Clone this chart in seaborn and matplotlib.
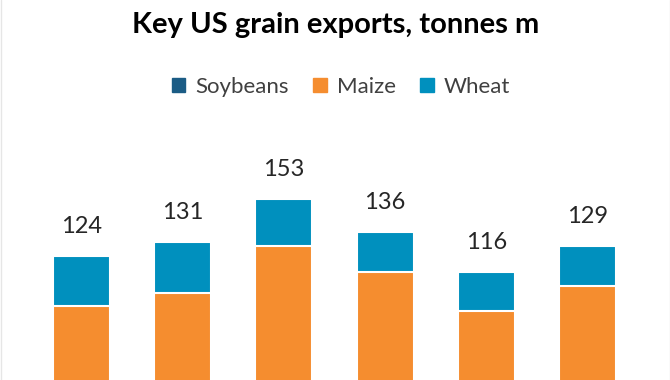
import matplotlib
matplotlib.use("Agg")
import matplotlib.pyplot as plt
import seaborn as sns
import pandas as pd
from matplotlib.patches import Patch
from matplotlib.lines import Line2D

# valores (millones de toneladas)
anios = ["A", "B", "C", "D", "E", "F"]
soja = [52, 48, 57, 54, 49, 55]
maiz = [47, 57.5, 72, 62, 47.5, 54]
trigo = [25, 25.5, 24, 20, 19.5, 20]

COL_SOJA = "#1b5c85"
COL_MAIZ = "#f58d2f"
COL_TRIGO = "#0090be"

sns.set_style("white")
plt.rcParams["font.family"] = ["Lato", "DejaVu Sans"]

df = pd.DataFrame({"anio": anios, "soja": soja, "maiz": maiz, "trigo": trigo})
df["nivel_maiz"] = df["soja"] + df["maiz"]
df["total"] = df["nivel_maiz"] + df["trigo"]

fig = plt.figure(figsize=(6.7, 3.8), dpi=100)

# el eje sigue por debajo del borde de la figura (grafico recortado)
ax = fig.add_axes([0.0463, -0.3237, 0.906, 0.9427])

# barras apiladas por capas: total -> soja+maiz -> soja
for col, color in [("total", COL_TRIGO), ("nivel_maiz", COL_MAIZ), ("soja", COL_SOJA)]:
    sns.barplot(data=df, x="anio", y=col, color=color, width=0.563,
                edgecolor="white", linewidth=1.5, saturation=1, ax=ax)

for i, v in enumerate(df["total"]):
    ax.text(i, v + 9.5, f"{v:.0f}", ha="center", va="bottom",
            fontsize=17, color="#262626")

ax.set_xlim(-0.5, 5.5)
ax.set_ylim(0, 180)
ax.set_xlabel("")
ax.set_ylabel("")
ax.set_xticks([])
ax.set_yticks([])
sns.despine(ax=ax, left=True, bottom=True)

# bordes laterales tenues del recorte
for xb in (0.5 / 670, 669.5 / 670):
    fig.add_artist(Line2D([xb, xb], [0, 1], transform=fig.transFigure,
                          color="#e6e6e6", linewidth=1))

fig.text(336 / 670, 1 - 33 / 380, "Key US grain exports, tonnes m",
         ha="center", va="baseline", fontsize=21, fontweight="bold", color="#000000")

handles = [Patch(color=COL_SOJA, label="Soybeans"),
           Patch(color=COL_MAIZ, label="Maize"),
           Patch(color=COL_TRIGO, label="Wheat")]
fig.legend(handles=handles, loc="center", bbox_to_anchor=(341 / 670, 1 - 87 / 380),
           ncol=3, frameon=False, fontsize=16, handlelength=0.6, handleheight=0.6,
           handletextpad=0.45, columnspacing=1.1, labelcolor="#404040")

fig.savefig("out.png", dpi=100)
